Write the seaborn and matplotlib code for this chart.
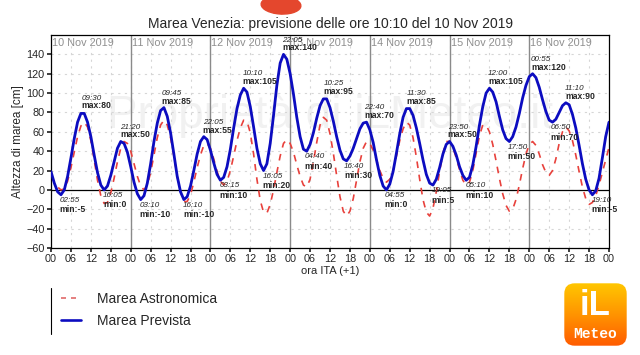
import matplotlib
matplotlib.use("Agg")
import matplotlib.pyplot as plt
import seaborn as sns
import numpy as np
import pandas as pd
from matplotlib.lines import Line2D
from matplotlib.patches import FancyBboxPatch, Ellipse
from matplotlib.colors import LinearSegmentedColormap

sns.set_theme(style="white")
plt.rcParams['font.family'] = ['Liberation Sans', 'DejaVu Sans']

# ore dall'inizio del 10 Nov 2019 (una lettura ogni ora)
ore = np.arange(0, 169)

giorni = ["10 Nov 2019", "11 Nov 2019", "12 Nov 2019", "13 Nov 2019",
          "14 Nov 2019", "15 Nov 2019", "16 Nov 2019"]

prevista = [19, 7, -2, -5, 0, 14, 33, 53, 70, 79,
            79, 70, 55, 36, 18, 5, 0, 4, 15, 29,
            43, 50, 48, 39, 24, 8, -4, -10, -6, 7,
            27, 50, 69, 82, 85, 76, 59, 37, 14, -2,
            -10, -7, 4, 20, 37, 50, 55, 52, 41, 28,
            16, 10, 13, 24, 42, 64, 84, 98, 105, 101,
            86, 65, 43, 27, 20, 27, 48, 77, 108, 131,
            140, 135, 120, 99, 75, 55, 42, 40, 47, 59,
            74, 87, 94, 94, 85, 71, 55, 41, 32, 30,
            35, 43, 53, 63, 69, 70, 62, 49, 31, 15,
            4, 0, 6, 19, 38, 58, 75, 84, 84, 77,
            64, 48, 31, 16, 7, 5, 11, 23, 37, 47,
            50, 45, 36, 24, 15, 10, 13, 26, 45, 67,
            86, 100, 105, 101, 91, 76, 62, 53, 50, 55,
            65, 79, 95, 108, 117, 120, 116, 106, 93, 81,
            72, 70, 73, 80, 87, 90, 88, 78, 64, 46,
            27, 11, 0, -5, -1, 12, 33, 55, 70]

# marea astronomica [cm]
astronomica = [14, 8, 3, 0, 1, 9, 23, 39, 55, 66,
               70, 65, 51, 31, 10, -6, -14, -13, -3, 12,
               29, 43, 50, 48, 40, 27, 14, 4, 0, 5,
               18, 36, 54, 67, 72, 67, 54, 35, 14, -2,
               -12, -12, -5, 8, 23, 36, 46, 48, 43, 32,
               19, 9, 5, 9, 20, 35, 51, 64, 72, 71,
               59, 37, 11, -11, -23, -24, -15, 0, 18, 35,
               48, 52, 48, 39, 26, 14, 5, 3, 11, 29,
               49, 67, 75, 72, 58, 38, 15, -7, -22, -27,
               -22, -9, 10, 29, 43, 50, 48, 41, 31, 20,
               12, 8, 11, 20, 35, 51, 63, 70, 67, 54,
               34, 11, -10, -23, -27, -19, -2, 19, 38, 50,
               50, 44, 33, 21, 10, 5, 8, 20, 38, 56,
               67, 67, 60, 47, 30, 12, -4, -16, -22, -20,
               -10, 5, 22, 37, 47, 50, 46, 37, 26, 18,
               15, 20, 32, 48, 60, 65, 61, 51, 36, 19,
               3, -9, -15, -13, -6, 5, 18, 31, 44]

# estremi annotati della marea prevista
ann_giorno = [0, 0, 0, 0, 1, 1, 1, 1, 2, 2, 2, 2, 3, 3, 3, 3,
              4, 4, 4, 4, 5, 5, 5, 6, 6, 6, 6]
ann_ora = ["02:55", "09:30", "16:05", "21:20", "03:10", "09:45", "16:10", "22:05",
           "03:15", "10:10", "16:05", "22:05", "04:40", "10:25", "16:40", "22:40",
           "04:55", "11:30", "19:05", "23:50", "05:10", "12:00", "17:50",
           "00:55", "06:50", "11:10", "19:10"]
ann_tipo = ["min", "max", "min", "max", "min", "max", "min", "max",
            "min", "max", "min", "max", "min", "max", "min", "max",
            "min", "max", "min", "max", "min", "max", "min",
            "max", "min", "max", "min"]
ann_val = [-5, 80, 0, 50, -10, 85, -10, 55, 10, 105, 20, 140, 40, 95, 30, 70,
           0, 85, 5, 50, 10, 105, 50, 120, 70, 90, -5]

df = pd.DataFrame({"ora": ore, "prevista": prevista, "astronomica": astronomica})

fig = plt.figure(figsize=(6.4, 3.55), dpi=100)
ax = fig.add_axes([51 / 640, 1 - 248 / 355, 558 / 640, 213 / 355])

# watermark
ax.text(84, 77, "Proprietà di iLMeteo.it", ha="center", va="center",
        fontsize=33, color="#f1f1f1", zorder=0)

ax.grid(True, color="#d6d6d6", linestyle=(0, (2, 4)), lw=0.8, zorder=0)
for d in range(1, 7):
    ax.axvline(d * 24, color="#8a8a8a", lw=1, zorder=1)
ax.axhline(0, color="black", lw=0.9, zorder=1)

sns.lineplot(data=df, x="ora", y="astronomica", ax=ax, color="#e8413c",
             lw=1.2, zorder=2)
ax.lines[-1].set_dashes([4, 4])
sns.lineplot(data=df, x="ora", y="prevista", ax=ax, color="#0c0cc0",
             lw=2.0, zorder=3)

ax.set_xlim(0, 168)
ax.set_ylim(-60, 160)
ax.set_xticks(range(0, 169, 6))
ax.set_xticklabels(["%02d" % (h % 24) for h in range(0, 169, 6)])
ax.set_yticks(range(-60, 141, 20))
ax.tick_params(labelsize=7.8, length=3, pad=1.5, direction="out",
               left=True, bottom=True)
for s in ax.spines.values():
    s.set_color("black")
    s.set_linewidth(0.9)
ax.set_xlabel("ora ITA (+1)", fontsize=8, labelpad=1)
ax.set_ylabel("Altezza di marea [cm]", fontsize=8.5, labelpad=2)
ax.set_title("Marea Venezia: previsione delle ore 10:10 del 10 Nov 2019",
             fontsize=10, pad=5)

trans = ax.get_xaxis_transform()
for i, g in enumerate(giorni):
    ax.text(i * 24 + 0.3, 0.985, g, transform=trans, ha="left", va="top",
            fontsize=7.8, color="#8f8f8f", zorder=4)

for d, o, t, v in zip(ann_giorno, ann_ora, ann_tipo, ann_val):
    hh, mm = o.split(":")
    x = d * 24 + int(hh) + int(mm) / 60
    if t == "max":
        ax.annotate("max:%d" % v, (x, v), xytext=(-1, 1.5), textcoords="offset points",
                    ha="left", va="bottom", fontsize=6.2, fontweight="bold", zorder=5)
        ax.annotate(o, (x, v), xytext=(-1, 7.8), textcoords="offset points",
                    ha="left", va="bottom", fontsize=5.8, style="italic", zorder=5)
    else:
        ax.annotate(o, (x, v), xytext=(-1, -1.5), textcoords="offset points",
                    ha="left", va="top", fontsize=5.8, style="italic", zorder=5)
        ax.annotate("min:%d" % v, (x, v), xytext=(-1, -7.6), textcoords="offset points",
                    ha="left", va="top", fontsize=6.2, fontweight="bold", zorder=5)

# legenda
handles = [Line2D([], [], color="#e06a6a", lw=1.2, dashes=[3, 3]),
           Line2D([], [], color="#0c0cc0", lw=1.9)]
fig.legend(handles, ["Marea Astronomica", "Marea Prevista"], loc="center left",
           bbox_to_anchor=(48 / 640, 1 - 310 / 355), frameon=False, fontsize=10,
           handlelength=1.45, handletextpad=1.2, labelspacing=0.55)
fig.add_artist(Line2D([51 / 640, 51 / 640], [1 - 288 / 355, 1 - 334 / 355],
                      color="black", lw=0.8))

# macchia rossa in alto
fig.add_artist(Ellipse((281 / 640, 1 - 5 / 355), 40 / 640, 18 / 355, angle=-12,
                       color="#e4472d"))

# logo iLMeteo
lax = fig.add_axes([563 / 640, 1 - 347 / 355, 65 / 640, 65 / 355])
lax.set_axis_off()
cmap = LinearSegmentedColormap.from_list("logo", ["#ff5a00", "#ff9400", "#ffc800"])
grad = np.linspace(0, 1, 100).reshape(-1, 1)
im = lax.imshow(grad, cmap=cmap, extent=(0, 1, 0, 1), origin="lower", aspect="auto")
box = FancyBboxPatch((0.02, 0.02), 0.96, 0.96, boxstyle="round,pad=0,rounding_size=0.16",
                     transform=lax.transAxes, fc="none", ec="none")
lax.add_patch(box)
im.set_clip_path(box)
lax.set_xlim(0, 1)
lax.set_ylim(0, 1)
lax.text(0.5, 0.64, "iL", ha="center", va="center", fontsize=25, fontweight="bold",
         color="white")
lax.text(0.5, 0.2, "Meteo", ha="center", va="center", fontsize=10.5, fontweight="bold",
         color="white", family="Liberation Mono")

fig.savefig("out.png", dpi=100, facecolor="white")
